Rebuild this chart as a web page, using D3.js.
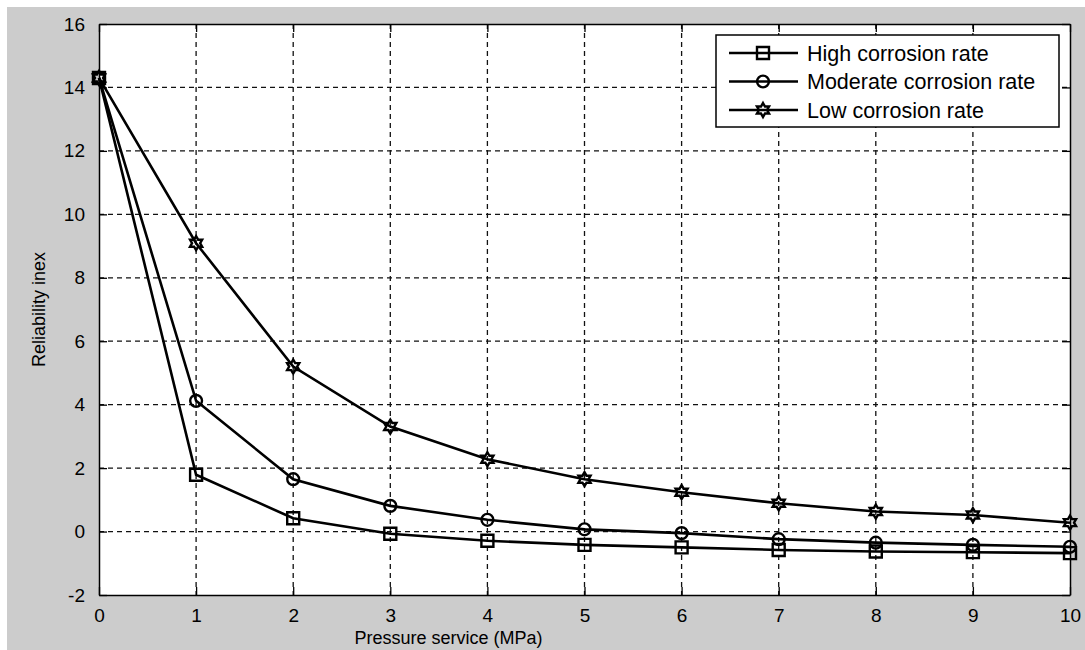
<!DOCTYPE html>
<html>
<head>
<meta charset="utf-8">
<script src="https://cdn.jsdelivr.net/npm/d3@7"></script>
<style>
    body { margin: 0; background: #fff; }
    text { font-family: "Liberation Sans", Arial, sans-serif; fill: #000; }
</style>
</head>
<body>
<svg id="chart"></svg>
<script>
const pressure = [0, 1, 2, 3, 4, 5, 6, 7, 8, 9, 10];
const highRate = [14.3, 1.79, 0.42, -0.07, -0.29, -0.42, -0.5, -0.58, -0.63, -0.65, -0.68];
const moderateRate = [14.3, 4.12, 1.65, 0.81, 0.37, 0.07, -0.05, -0.24, -0.35, -0.42, -0.48];
const lowRate = [14.3, 9.09, 5.2, 3.31, 2.28, 1.65, 1.24, 0.89, 0.63, 0.52, 0.28];
const xTicks = [0, 1, 2, 3, 4, 5, 6, 7, 8, 9, 10];
const yTicks = [-2, 0, 2, 4, 6, 8, 10, 12, 14, 16];
const seriesNames = ['High corrosion rate', 'Moderate corrosion rate', 'Low corrosion rate'];

const width = 1085;
const height = 650;
const margin = { top: 24, right: 15, bottom: 55, left: 99 };

const svg = d3.select('#chart')
    .attr('width', width)
    .attr('height', height);

// grey figure background
svg.append('rect')
    .attr('x', 7).attr('y', 7)
    .attr('width', width - 7).attr('height', height - 7)
    .attr('fill', '#cccccc');

const x = d3.scaleLinear().domain([0, 10]).range([margin.left, width - margin.right]);
const y = d3.scaleLinear().domain([-2, 16]).range([height - margin.bottom, margin.top]);

svg.append('rect')
    .attr('x', x(0)).attr('y', y(16))
    .attr('width', x(10) - x(0)).attr('height', y(-2) - y(16))
    .attr('fill', '#fff');

// grid
const grid = svg.append('g')
    .attr('stroke', '#111')
    .attr('stroke-width', 1.3)
    .attr('stroke-dasharray', '5,4');

grid.selectAll('.vgrid')
    .data(xTicks.slice(1, -1))
    .enter().append('line')
    .attr('x1', d => x(d)).attr('x2', d => x(d))
    .attr('y1', y(16)).attr('y2', y(-2));

grid.selectAll('.hgrid')
    .data(yTicks.slice(1, -1))
    .enter().append('line')
    .attr('x1', x(0)).attr('x2', x(10))
    .attr('y1', d => y(d)).attr('y2', d => y(d));

// axes, ticks inside on all four sides
const tickLen = 8;
const fmt = d => String(d);   // plain hyphen for negatives, like the original
const bottomAxis = d3.axisBottom(x).tickValues(xTicks).tickFormat(fmt).tickSizeInner(-tickLen).tickSizeOuter(0).tickPadding(14);
const leftAxis = d3.axisLeft(y).tickValues(yTicks).tickFormat(fmt).tickSizeInner(-tickLen).tickSizeOuter(0).tickPadding(14);
const topAxis = d3.axisTop(x).tickValues(xTicks).tickSizeInner(-tickLen).tickSizeOuter(0).tickFormat('');
const rightAxis = d3.axisRight(y).tickValues(yTicks).tickSizeInner(-tickLen).tickSizeOuter(0).tickFormat('');

function styleAxis(g) {
    g.select('.domain').attr('stroke', '#000').attr('stroke-width', 1.5);
    g.selectAll('.tick line').attr('stroke', '#000').attr('stroke-width', 1.3);
    g.selectAll('.tick text')
        .attr('font-family', '"Liberation Sans", Arial, sans-serif')
        .attr('font-size', 19)
        .attr('fill', '#111');
}

svg.append('g').attr('transform', `translate(0,${y(-2)})`).call(bottomAxis).call(styleAxis);
svg.append('g').attr('transform', `translate(${x(0)},0)`).call(leftAxis).call(styleAxis);
svg.append('g').attr('transform', `translate(0,${y(16)})`).call(topAxis).call(styleAxis);
svg.append('g').attr('transform', `translate(${x(10)},0)`).call(rightAxis).call(styleAxis);

// axis titles
svg.append('text')
    .attr('x', x(3.6))
    .attr('y', height - 6)
    .attr('text-anchor', 'middle')
    .attr('font-size', 18)
    .text('Pressure service (MPa)');

svg.append('text')
    .attr('transform', `translate(45,${(y(16) + y(-2)) / 2}) rotate(-90)`)
    .attr('text-anchor', 'middle')
    .attr('font-size', 18)
    .text('Reliability inex');

// markers
function hexagramPath(r) {
    const pts = [];
    for (let i = 0; i < 12; i++) {
        const a = -Math.PI / 2 + i * Math.PI / 6;
        const rr = i % 2 === 0 ? r : r / Math.sqrt(3);
        pts.push([rr * Math.cos(a), rr * Math.sin(a)]);
    }
    return 'M' + pts.map(p => p.join(',')).join('L') + 'Z';
}

const markerPaths = [
    d3.symbol().type(d3.symbolSquare).size(144)(),
    d3.symbol().type(d3.symbolCircle).size(110)(),
    hexagramPath(7)
];

const seriesValues = [highRate, moderateRate, lowRate];

const line = d3.line()
    .x(d => x(d[0]))
    .y(d => y(d[1]));

seriesValues.forEach((vals, i) => {
    const pts = pressure.map((p, j) => [p, vals[j]]);
    svg.append('path')
        .datum(pts)
        .attr('fill', 'none')
        .attr('stroke', '#000')
        .attr('stroke-width', 2.6)
        .attr('d', line);

    svg.selectAll('.m' + i)
        .data(pts)
        .enter().append('path')
        .attr('class', 'm' + i)
        .attr('transform', d => `translate(${x(d[0])},${y(d[1])})`)
        .attr('d', markerPaths[i])
        .attr('fill', 'none')
        .attr('stroke', '#000')
        .attr('stroke-width', 2.4);
});

// legend
const legend = svg.append('g').attr('transform', 'translate(716,35)');
legend.append('rect')
    .attr('width', 343).attr('height', 92)
    .attr('fill', '#fff')
    .attr('stroke', '#000')
    .attr('stroke-width', 1.5);

seriesNames.forEach((name, i) => {
    const row = legend.append('g').attr('transform', `translate(0,${18 + i * 28.5})`);
    row.append('line')
        .attr('x1', 13).attr('x2', 82)
        .attr('stroke', '#000').attr('stroke-width', 2.6);
    row.append('path')
        .attr('transform', 'translate(47,0)')
        .attr('d', markerPaths[i])
        .attr('fill', 'none')
        .attr('stroke', '#000')
        .attr('stroke-width', 2.4);
    row.append('text')
        .attr('x', 91)
        .attr('dy', '0.35em')
        .attr('font-size', 21.5)
        .text(name);
});
</script>
</body>
</html>
